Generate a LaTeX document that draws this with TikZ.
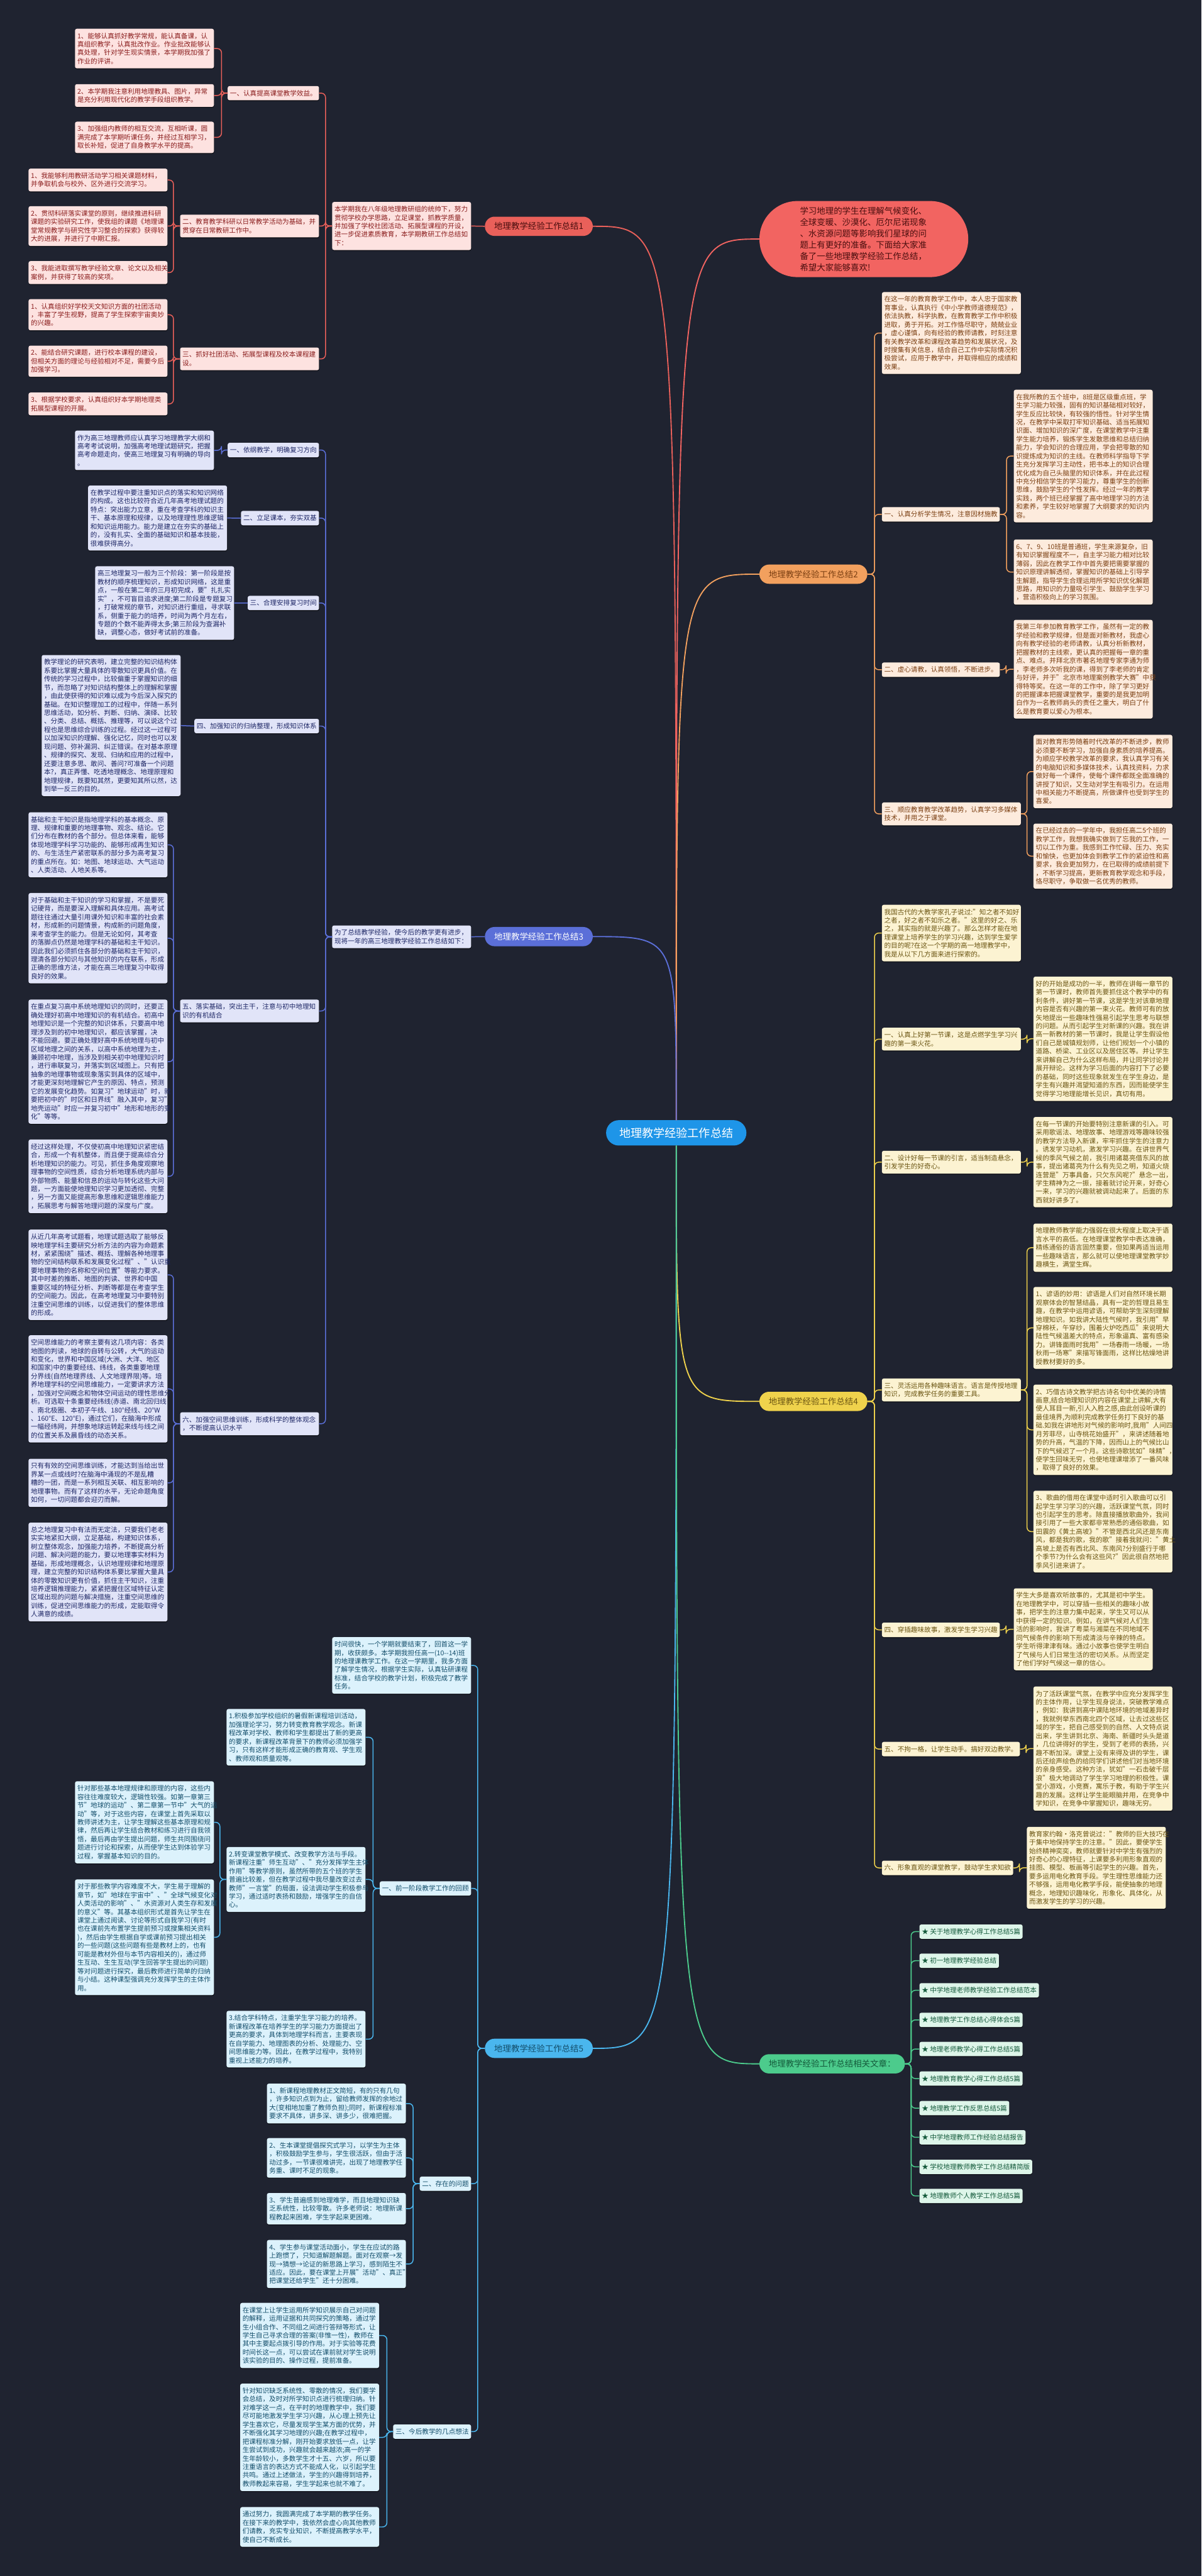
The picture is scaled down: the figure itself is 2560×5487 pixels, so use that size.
\documentclass[tikz,border=0pt]{standalone}
\usepackage{fontspec}
\setmainfont{Noto Sans CJK SC}
\usetikzlibrary{calc,shadows}
\definecolor{bg}{HTML}{1F2330}
\definecolor{la}{HTML}{E9605A}\definecolor{fa}{HTML}{FDE2E0}\definecolor{ta}{HTML}{8A1C1C}
\definecolor{lb}{HTML}{F2A05E}\definecolor{fb}{HTML}{FDEBDD}\definecolor{tb}{HTML}{7B3F12}
\definecolor{lc}{HTML}{5B6FD8}\definecolor{fc}{HTML}{E1E4F8}\definecolor{tc}{HTML}{1E2766}
\definecolor{ld}{HTML}{EFD24C}\definecolor{fd}{HTML}{FCF3D2}\definecolor{td}{HTML}{6B5512}
\definecolor{le}{HTML}{4AB6EE}\definecolor{fe}{HTML}{DCF2FC}\definecolor{te}{HTML}{134E6B}
\definecolor{lf}{HTML}{4CCB8C}\definecolor{ff}{HTML}{DDF5E9}\definecolor{tf}{HTML}{145A3B}
\definecolor{redfill}{HTML}{F26461}\definecolor{redtext}{HTML}{4A0E0E}
\definecolor{cfill}{HTML}{1E95E8}
\newcommand\fsLeaf{\fontsize{14.2}{18}\selectfont}
\newcommand\fsLab{\fontsize{18}{22}\selectfont}
\newcommand\fsRed{\fontsize{18}{24}\selectfont}
\newcommand\fsCen{\fontsize{24.3}{28}\selectfont}
\tikzset{
  bx/.style={rounded corners=4pt, inner xsep=5pt, inner ysep=8.6pt, align=left, font=\fsLeaf,
    drop shadow={shadow xshift=0.5pt, shadow yshift=-2pt, opacity=0.45, fill=black}},
  wd/.style={text width=286pt},
  LL/.style={anchor=north east},
  RR/.style={anchor=north west},
  ka/.style={bx, fill=fa, text=ta},
  kb/.style={bx, fill=fb, text=tb},
  kc/.style={bx, fill=fc, text=tc},
  kd/.style={bx, fill=fd, text=td},
  ke/.style={bx, fill=fe, text=te},
  kf/.style={bx, fill=ff, text=tf},
  cn/.style={line width=2pt, rounded corners=9pt},
  cv/.style={line width=2.5pt},
  lab/.style={rounded corners=20.5pt, minimum height=41pt, inner xsep=20pt, font=\fsLab},
}
\begin{document}
\begin{tikzpicture}[x=1pt,y=-1pt]
\useasboundingbox (0,0) rectangle (2560,5487);
\fill[bg] (0,0) rectangle (2560,5487);

% ---------- center and main labels ----------
\node[fill=cfill, text=white, font=\fsCen, rounded corners=27pt, minimum width=299pt, minimum height=54pt, inner sep=0pt] (C) at (1441,2413) {地理教学经验工作总结};

\node[fill=redfill, text=redtext, font=\fsRed, rounded corners=81pt, minimum width=445pt, minimum height=162pt, text width=272pt, align=left, anchor=north west] (red) at (1618,428) {学习地理的学生在理解气候变化、\\全球变暖、沙漠化、厄尔尼诺现象\\、水资源问题等影响我们星球的问\\题上有更好的准备。下面给大家准\\备了一些地理教学经验工作总结，\\希望大家能够喜欢!};

\node[lab, fill=la, text=redtext, anchor=west] (lab1) at (1033,482) {地理教学经验工作总结1};
\node[lab, fill=lb, text=tb, anchor=west] (lab2) at (1618,1223) {地理教学经验工作总结2};
\node[lab, fill=lc, text=white, anchor=west] (lab3) at (1033,1995) {地理教学经验工作总结3};
\node[lab, fill=ld, text=td, anchor=west] (lab4) at (1618,2985) {地理教学经验工作总结4};
\node[lab, fill=le, text=te, anchor=west] (lab5) at (1033,4363) {地理教学经验工作总结5};
\node[lab, fill=lf, text=tf, anchor=west] (labR) at (1618,4396) {地理教学经验工作总结相关文章：};

\draw[cv, la] (C.north) .. controls (1441,482) .. (lab1.east);
\draw[cv, redfill] (C.north) .. controls (1441,509) .. (red.west);
\draw[cv, lb] (C.north) .. controls (1441,1223) .. (lab2.west);
\draw[cv, lc] (C.north) .. controls (1441,1995) .. (lab3.east);
\draw[cv, ld] (C.south) .. controls (1441,2985) .. (lab4.west);
\draw[cv, le] (C.south) .. controls (1441,4363) .. (lab5.east);
\draw[cv, lf] (C.south) .. controls (1441,4396) .. (labR.west);

% ---------- 总结1 ----------
\node[ka, wd, LL] (N1) at (1004,430) {本学期我在八年级地理教研组的统帅下，努力\\贯彻学校办学思路，立足课堂，抓教学质量，\\并加强了学校社团活动、拓展型课程的开设，\\进一步促进素质教育，本学期教研工作总结如\\下：};
\node[ka, LL] (N1a) at (680,183) {一、认真提高课堂教学效益。};
\node[ka, wd, LL] (N1b) at (680,457) {二、教育教学科研以日常教学活动为基础，并\\贯穿在日常教研工作中。};
\node[ka, wd, LL] (N1c) at (680,740) {三、抓好社团活动、拓展型课程及校本课程建\\设。};
\node[ka, wd, LL] (A1) at (456,61) {1、能够认真抓好教学常规，能认真备课，认\\真组织教学，认真批改作业。作业批改能够认\\真处理，针对学生现实情景，本学期我加强了\\作业的评讲。};
\node[ka, wd, LL] (A2) at (456,179) {2、本学期我注意利用地理教具、图片，异常\\是充分利用现代化的教学手段组织教学。};
\node[ka, wd, LL] (A3) at (456,259) {3、加强组内教师的相互交流，互相听课，圆\\满完成了本学期听课任务，并经过互相学习，\\取长补短，促进了自身教学水平的提高。};
\node[ka, wd, LL] (B1) at (357,359) {1、我能够利用教研活动学习相关课题材料，\\并争取机会与校外、区外进行交流学习。};
\node[ka, wd, LL] (B2) at (357,439) {2、贯彻科研落实课堂的原则，继续推进科研\\课题的实验研究工作，使我组的课题《地理课\\堂常规教学与研究性学习整合的探索》获得较\\大的进展，并进行了中期汇报。};
\node[ka, wd, LL] (B3) at (357,556) {3、我能进取撰写教学经验文章、论文以及相关\\案例，并获得了较高的奖项。};
\node[ka, wd, LL] (C1) at (357,637) {1、认真组织好学校天文知识方面的社团活动\\，丰富了学生视野，提高了学生探索宇宙奥妙\\的兴趣。};
\node[ka, wd, LL] (C2) at (357,736) {2、能结合研究课题，进行校本课程的建设，\\但相关方面的理论与经验相对不足，需要今后\\加强学习。};
\node[ka, wd, LL] (C3) at (357,836) {3、根据学校要求，认真组织好本学期地理类\\拓展型课程的开展。};

\draw[cn, la] (lab1.west) -- (N1.east);
\foreach \c in {N1a,N1b,N1c} \draw[cn, la] (N1.west) -- ++(-14,0) |- (\c.east);
\foreach \c in {A1,A2,A3} \draw[cn, la] (N1a.west) -- ++(-13,0) |- (\c.east);
\foreach \c in {B1,B2,B3} \draw[cn, la] (N1b.west) -- ++(-14,0) |- (\c.east);
\foreach \c in {C1,C2,C3} \draw[cn, la] (N1c.west) -- ++(-14,0) |- (\c.east);

% ---------- 总结3 ----------
\node[kc, wd, LL] (N3) at (1004,1971) {为了总结教学经验，使今后的教学更有进步，\\现将一年的高三地理教学经验工作总结如下：};
\node[kc, LL] (N3a) at (680,943) {一、依纲教学，明确复习方向};
\node[kc, LL] (N3b) at (680,1088) {二、立足课本，夯实双基};
\node[kc, LL] (N3c) at (680,1269) {三、合理安排复习时间};
\node[kc, LL] (N3d) at (680,1531) {四、加强知识的归纳整理，形成知识体系};
\node[kc, wd, LL] (N3e) at (680,2129) {五、落实基础，突出主干，注意与初中地理知\\识的有机结合};
\node[kc, wd, LL] (N3f) at (680,3008) {六、加强空间思维训练，形成科学的整体观念\\，不断提高认识水平};
\node[kc, wd, LL] (D1) at (456,917) {作为高三地理教师应认真学习地理教学大纲和\\高考考试说明，加强高考地理试题研究，把握\\高考命题走向，使高三地理复习有明确的导向\\。};
\node[kc, wd, LL] (D2) at (484,1034) {在教学过程中要注重知识点的落实和知识网络\\的构成。这也比较符合近几年高考地理试题的\\特点：突出能力立意，重在考查学科的知识主\\干、基本原理和规律，以及地理理性思维逻辑\\和知识运用能力。能力是建立在夯实的基础上\\的，没有扎实、全面的基础知识和基本技能，\\很难获得高分。};
\node[kc, wd, LL] (D3) at (499,1206) {高三地理复习一般为三个阶段：第一阶段是按\\教材的顺序梳理知识，形成知识网络，这是重\\点，一般在第二年的三月初完成，要"扎扎实\\实"，不可盲目追求进度;第二阶段是专题复习\\，打破常规的章节，对知识进行重组，寻求联\\系，侧重于能力的培养，时间为两个月左右，\\专题的个数不能弄得太多;第三阶段为查漏补\\缺，调整心态，做好考试前的准备。};
\node[kc, wd, LL] (D4) at (385,1395) {教学理论的研究表明，建立完整的知识结构体\\系要比掌握大量具体的零散知识更具价值。在\\传统的学习过程中，比较偏重于掌握知识的细\\节，而忽略了对知识结构整体上的理解和掌握\\，由此使获得的知识难以成为今后深入探究的\\基础。在知识整理加工的过程中，伴随一系列\\思维活动，如分析、判断、归纳、演绎、比较\\、分类、总结、概括、推理等，可以说这个过\\程也是思维综合训练的过程。经过这一过程可\\以加深知识的理解、强化记忆，同时也可以发\\现问题、弥补漏洞、纠正错误。在对基本原理\\、规律的探究、发现、归纳和应用的过程中，\\还要注意多思、敢问、善问?可准备一个问题\\本?，真正弄懂、吃透地理概念、地理原理和\\地理规律，既要知其然，更要知其所以然，达\\到举一反三的目的。};
\node[kc, wd, LL] (D5) at (357,1730) {基础和主干知识是指地理学科的基本概念、原\\理、规律和重要的地理事物、观念、结论。它\\们分布在教材的各个部分。但总体来看，能够\\体现地理学科学习功能的、能够形成再生知识\\的、与生活生产紧密联系的部分多为高考复习\\的重点所在。如：地图、地球运动、大气运动\\、人类活动、人地关系等。};
\node[kc, wd, LL] (D6) at (357,1902) {对于基础和主干知识的学习和掌握，不是要死\\记硬背，而是要深入理解和具体应用。高考试\\题往往通过大量引用课外知识和丰富的社会素\\材，形成新的问题情景，构成新的问题角度，\\来考查学生的能力。但是无论如何，其考查\\的落脚点仍然是地理学科的基础和主干知识。\\因此我们必须抓住各部分的基础和主干知识，\\理清各部分知识与其他知识的内在联系，形成\\正确的思维方法，才能在高三地理复习中取得\\良好的效果。};
\node[kc, wd, LL] (D7) at (357,2129) {在重点复习高中系统地理知识的同时，还要正\\确处理好初高中地理知识的有机结合。初高中\\地理知识是一个完整的知识体系，只要高中地\\理涉及到的初中地理知识，都应该掌握，决\\不能回避。要正确处理好高中系统地理与初中\\区域地理之间的关系，以高中系统地理为主，\\兼顾初中地理，当涉及到相关初中地理知识时\\，进行串联复习，并落实到区域图上。只有把\\抽象的地理事物或现象落实到具体的区域中，\\才能更深刻地理解它产生的原因、特点，预测\\它的发展变化趋势。如复习"地球运动"时，就\\要把初中的"时区和日界线"融入其中，复习"\\地壳运动"时应一并复习初中"地形和地形的变\\化"等等。};
\node[kc, wd, LL] (D8) at (357,2427) {经过这样处理，不仅使初高中地理知识紧密结\\合，形成一个有机整体，而且便于提高综合分\\析地理知识的能力。可见，抓住多角度观察地\\理事物的空间性质，综合分析地理系统内部与\\外部物质、能量和信息的运动与转化这些大问\\题，一方面能使地理知识学习更加透彻、完整\\，另一方面又能提高形象思维和逻辑思维能力\\，拓展思考与解答地理问题的深度与广度。};
\node[kc, wd, LL] (D9) at (357,2619) {从近几年高考试题看，地理试题选取了能够反\\映地理学科主要研究分析方法的内容为命题素\\材，紧紧围绕"描述、概括、理解各种地理事\\物的空间结构联系和发展变化过程"、"认识重\\要地理事物的名称和空间位置"等能力要求。\\其中时差的推断、地图的判读、世界和中国\\重要区域的特征分析、判断等都是在考查学生\\的空间能力。因此，在高考地理复习中要特别\\注重空间思维的训练，以促进我们的整体思维\\的形成。};
\node[kc, wd, LL] (D10) at (357,2844) {空间思维能力的考察主要有这几项内容：各类\\地图的判读，地球的自转与公转，大气的运动\\和变化，世界和中国区域(大洲、大洋、地区\\和国家)中的重要经线、纬线，各类重要地理\\分界线(自然地理界线、人文地理界限)等。培\\养地理学科的空间思维能力，一定要讲求方法\\，加强对空间概念和物体空间运动的理性思维分\\析。可选取十条重要经纬线(赤道、南北回归线\\、南北极圈、本初子午线、180°经线、20°W\\、160°E、120°E)，通过它们，在脑海中形成\\一幅经纬网，并想象地球运转起来线与线之间\\的位置关系及晨昏线的动态关系。};
\node[kc, wd, LL] (D11) at (357,3107) {只有有效的空间思维训练，才能达到当给出世\\界某一点或线时?在脑海中涌现的不是乱糟\\糟的一团，而是一系列相互关联、相互影响的\\地理事物。而有了这样的水平，无论命题角度\\如何，一切问题都会迎刃而解。};
\node[kc, wd, LL] (D12) at (357,3243) {总之地理复习中有法而无定法，只要我们老老\\实实地紧扣大纲，立足基础，构建知识体系，\\树立整体观念，加强能力培养，不断提高分析\\问题、解决问题的能力，要以地理事实材料为\\基础，形成地理概念，认识地理规律和地理原\\理，建立完整的知识结构体系要比掌握大量具\\体的零散知识更有价值，抓住主干知识，注重\\培养逻辑推理能力，紧紧把握住区域特征认定\\区域出现的问题与解决措施，注重空间思维的\\训练，促进空间思维能力的形成，定能取得令\\人满意的成绩。};

\draw[cn, lc] (lab3.west) -- (N3.east);
\foreach \c in {N3a,N3b,N3c,N3d,N3e,N3f} \draw[cn, lc] (N3.west) -- ++(-14,0) |- (\c.east);
\draw[cn, lc] (N3a.west) -- ++(-13,0) |- (D1.east);
\draw[cn, lc] (N3b.west) -- (D2.east);
\draw[cn, lc] (N3c.west) -- (D3.east);
\draw[cn, lc] (N3d.west) -- (D4.east);
\foreach \c in {D5,D6,D7,D8} \draw[cn, lc] (N3e.west) -- ++(-14,0) |- (\c.east);
\foreach \c in {D9,D10,D11,D12} \draw[cn, lc] (N3f.west) -- ++(-14,0) |- (\c.east);

% ---------- 总结5 ----------
\node[ke, wd, LL] (N5) at (1004,3487) {时间很快，一个学期就要结束了，回首这一学\\期，收获颇多。本学期我担任高一(10-{}-14)班\\的地理课教学工作。在这一学期里，我多方面\\了解学生情况，根据学生实际，认真钻研课程\\标准，结合学校的教学计划，积极完成了教学\\任务。};
\node[ke, LL] (N5a) at (1004,4007) {一、前一阶段教学工作的回顾};
\node[ke, LL] (N5b) at (1004,4636) {二、存在的问题};
\node[ke, LL] (N5c) at (1004,5164) {三、今后教学的几点想法};
\node[ke, wd, LL] (E1) at (779,3640) {1.积极参加学校组织的暑假新课程培训活动，\\加强理论学习，努力转变教育教学观念。新课\\程改革对学校、教师和学生都提出了新的更高\\的要求，新课程改革背景下的教师必须加强学\\习，只有这样才能形成正确的教育观、学生观\\、教师观和质量观等。};
\node[ke, wd, LL] (E2) at (779,3934) {2.转变课堂教学模式、改变教学方法与手段。\\新课程注重"师生互动"、"充分发挥学生主体\\作用"等教学原则，虽然所带的五个班的学生\\普遍比较差，但在教学过程中我尽量改变过去\\教师"一言堂"的局面，设法调动学生积极参与\\学习，通过适时表扬和鼓励，增强学生的自信\\心。};
\node[ke, wd, LL] (E3) at (779,4283) {3.结合学科特点，注重学生学习能力的培养。\\新课程改革在培养学生的学习能力方面提出了\\更高的要求，具体到地理学科而言，主要表现\\在自学能力、地理图表的分析、处理能力、空\\间思维能力等。因此，在教学过程中，我特别\\重视上述能力的培养。};
\node[ke, wd, LL] (F1) at (456,3794) {针对那些基本地理规律和原理的内容，这些内\\容往往难度较大，逻辑性较强。如第一章第三\\节"地球的运动"、第二章第一节中"大气的运\\动"等，对于这些内容，在课堂上首先采取以\\教师讲述为主，让学生理解这些基本原理和规\\律，然后再让学生结合教材和练习进行自我领\\悟，最后再由学生提出问题，师生共同围绕问\\题进行讨论和探索，从而使学生达到体验学习\\过程，掌握基本知识的目的。};
\node[ke, wd, LL] (F2) at (456,4003) {对于那些教学内容难度不大，学生易于理解的\\章节，如"地球在宇宙中"、"全球气候变化对\\人类活动的影响"、"水资源对人类生存和发展\\的意义"等。其基本组织形式是首先让学生在\\课堂上通过阅读、讨论等形式自我学习(有时\\也在课前先布置学生提前预习或搜集相关资料\\)，然后由学生根据自学或课前预习提出相关\\的一些问题(这些问题有些是教材上的，也有\\可能是教材外但与本节内容相关的)，通过师\\生互动、生生互动(学生回答学生提出的问题)\\等对问题进行探究，最后教师进行简单的归纳\\与小结。这种课型强调充分发挥学生的主体作\\用。};
\node[ke, wd, LL] (G1) at (865,4438) {1、新课程地理教材正文简短，有的只有几句\\，许多知识点到为止，留给教师发挥的余地过\\大(变相地加重了教师负担);同时，新课程标准\\要求不具体，讲多深、讲多少，很难把握。};
\node[ke, wd, LL] (G2) at (865,4554) {2、生本课堂提倡探究式学习，以学生为主体\\，积极鼓励学生参与，学生很活跃，但由于活\\动过多，一节课很难讲完，出现了地理教学任\\务重、课时不足的现象。};
\node[ke, wd, LL] (G3) at (865,4671) {3、学生普遍感到地理难学，而且地理知识缺\\乏系统性，比较零散。许多老师说：地理新课\\程教起来困难，学生学起来更困难。};
\node[ke, wd, LL] (G4) at (865,4771) {4、学生参与课堂活动面小，学生在应试的路\\上跑惯了，只知道解题解题。面对在观察→发\\现→猜想→论证的新思路上学习，感到陌生不\\适应。因此，要在课堂上开展"活动"、真正"\\把课堂还给学生"还十分困难。};
\node[ke, wd, LL] (H1) at (808,4905) {在课堂上让学生运用所学知识展示自己对问题\\的解释，运用证据和共同探究的策略，通过学\\生小组合作、不同组之间进行答辩等形式，让\\学生自己寻求合理的答案(非惟一性)，教师在\\其中主要起点拨引导的作用。对于实验等花费\\时间长这一点，可以尝试在课前就对学生说明\\该实验的目的、操作过程，提前准备。};
\node[ke, wd, LL] (H2) at (808,5077) {针对知识缺乏系统性、零散的情况，我们要学\\会总结，及时对所学知识点进行梳理归纳。针\\对难学这一点，在平时的地理教学中，我们要\\尽可能地激发学生学习兴趣，从心理上预先让\\学生喜欢它，尽量发现学生某方面的优势，并\\不断强化其学习地理的兴趣;在教学过程中，\\把课程标准分解，刚开始要求放低一点，让学\\生尝试到成功，兴趣就会越来越浓;高一的学\\生年龄较小，多数学生才十五、六岁，所以要\\注重语言的表达方式不能成人化，以引起学生\\共鸣。通过上述做法，学生的兴趣得到培养，\\教师教起来容易，学生学起来也就不难了。};
\node[ke, wd, LL] (H3) at (808,5340) {通过努力，我圆满完成了本学期的教学任务。\\在接下来的教学中，我依然会虚心向其他教师\\们请教，充实专业知识，不断提高教学水平，\\使自己不断成长。};

\foreach \c in {N5,N5a,N5b,N5c} \draw[cn, le] (lab5.west) -- ++(-15,0) |- (\c.east);
\foreach \c in {E1,E2,E3} \draw[cn, le] (N5a.west) -- ++(-14,0) |- (\c.east);
\foreach \c in {F1,F2} \draw[cn, le] (E2.west) -- ++(-14,0) |- (\c.east);
\foreach \c in {G1,G2,G3,G4} \draw[cn, le] (N5b.west) -- ++(-14,0) |- (\c.east);
\foreach \c in {H1,H2,H3} \draw[cn, le] (N5c.west) -- ++(-13,0) |- (\c.east);

% ---------- 总结2 ----------
\node[kb, wd, RR] (K0) at (1879,622) {在这一年的教育教学工作中，本人忠于国家教\\育事业，认真执行《中小学教师道德规范》，\\依法执教，科学执教，在教育教学工作中积极\\进取，勇于开拓。对工作恪尽职守，兢兢业业\\，虚心谨慎，向有经验的教师请教，时刻注意\\有关教学改革和课程改革趋势和发展状况，及\\时搜集有关信息，结合自己工作中实际情况积\\极尝试，应用于教学中，并取得相应的成绩和\\效果。};
\node[kb, RR] (K1) at (1879,1080) {一、认真分析学生情况，注意因材施教};
\node[kb, RR] (K2) at (1879,1411) {二、虚心请教，认真领悟，不断进步。};
\node[kb, wd, RR] (K3) at (1879,1709) {三、顺应教育教学改革趋势，认真学习多媒体\\技术，并用之于课堂。};
\node[kb, wd, RR] (K1a) at (2160,830) {在我所教的五个班中，8班是区级重点班，学\\生学习能力较强，固有的知识基础相对较好，\\学生反应比较快，有较强的悟性。针对学生情\\况，在教学中采取打牢知识基础、适当拓展知\\识面、增加知识的深广度，在课堂教学中注重\\学生能力培养，锻炼学生发散思维和总结归纳\\能力，学会知识的合理应用，学会把零散的知\\识提炼成为知识的主线。在教师科学指导下学\\生充分发挥学习主动性，把书本上的知识合理\\优化成为自己头脑里的知识体系，并在此过程\\中充分相信学生的学习能力，尊重学生的创新\\思维，鼓励学生的个性发挥。经过一年的教学\\实践，两个班已经掌握了高中地理学习的方法\\和素养，学生较好地掌握了大纲要求的知识内\\容。};
\node[kb, wd, RR] (K1b) at (2160,1149) {6、7、9、10班是普通班，学生来源复杂，旧\\有知识掌握程度不一，自主学习能力相对比较\\薄弱，因此在教学工作中首先要把需要掌握的\\知识原理讲解透彻，掌握知识的基础上引导学\\生解题，指导学生合理运用所学知识优化解题\\思路，用知识的力量吸引学生、鼓励学生学习\\，营造积极向上的学习氛围。};
\node[kb, wd, RR] (K2a) at (2160,1320) {我第三年参加教育教学工作，虽然有一定的教\\学经验和教学规律，但是面对新教材，我虚心\\向有教学经验的老师请教，认真分析新教材，\\把握教材的主线索，更认真的把握每一章的重\\点、难点。并拜北京市著名地理专家李通为师\\，李老师多次听我的课，得到了李老师的肯定\\与好评，并于"北京市地理案例教学大赛"中获\\得特等奖。在这一年的工作中，除了学习更好\\的把握课本把握课堂教学，重要的是我更加明\\白作为一名教师肩头的责任之重大，明白了什\\么是教育要以爱心为根本。};
\node[kb, wd, RR] (K3a) at (2202,1565) {面对教育形势随着时代改革的不断进步，教师\\必须要不断学习，加强自身素质的培养提高。\\为顺应学校教学改革的要求，我认真学习有关\\的电脑知识和多媒体技术，认真找资料，力求\\做好每一个课件，使每个课件都既全面准确的\\讲授了知识，又生动对学生有吸引力。在运用\\中相关能力不断提高，所做课件也受到学生的\\喜爱。};
\node[kb, wd, RR] (K3b) at (2202,1754) {在已经过去的一学年中，我担任高二5个班的\\教学工作，我想我确实做到了忘我的工作，一\\切以工作为重。我感到工作忙碌、压力、充实\\和愉快，也更加体会到教学工作的紧迫性和高\\要求，我会更加努力，在已取得的成绩前提下\\，不断学习提高，更新教育教学观念和手段，\\恪尽职守，争取做一名优秀的教师。};

\foreach \c in {K0,K1,K2,K3} \draw[cn, lb] (lab2.east) -- ++(15,0) |- (\c.west);
\foreach \c in {K1a,K1b} \draw[cn, lb] (K1.east) -- ++(14,0) |- (\c.west);
\draw[cn, lb] (K2.east) -- ++(13,0) |- (K2a.west);
\foreach \c in {K3a,K3b} \draw[cn, lb] (K3.east) -- ++(13,0) |- (\c.west);

% ---------- 总结4 ----------
\node[kd, wd, RR] (L0) at (1879,1927) {我国古代的大教学家孔子说过:"知之者不如好\\之者，好之者不如乐之者。"这里的好之、乐\\之，其实指的就是兴趣了。那么怎样才能在地\\理课堂上培养学生的学习兴趣，达到学生爱学\\的目的呢?在这一个学期的高一地理教学中，\\我是从以下几方面来进行探索的。};
\node[kd, wd, RR] (L1) at (1879,2189) {一、认真上好第一节课，这是点燃学生学习兴\\趣的第一束火花。};
\node[kd, wd, RR] (L2) at (1879,2451) {二、设计好每一节课的引言，适当制造悬念，\\引发学生的好奇心。};
\node[kd, wd, RR] (L3) at (1879,2936) {三、灵活运用各种趣味语言。语言是传授地理\\知识，完成教学任务的重要工具。};
\node[kd, RR] (L4) at (1879,3456) {四、穿插趣味故事，激发学生学习兴趣};
\node[kd, RR] (L5) at (1879,3710) {五、不拘一格，让学生动手。搞好双边教学。};
\node[kd, RR] (L6) at (1879,3963) {六、形象直观的课堂教学，鼓动学生求知欲};
\node[kd, wd, RR] (L1a) at (2202,2080) {好的开始是成功的一半，教师在讲每一章节的\\第一节课时，教师首先要抓住这个教学中的有\\利条件，讲好第一节课，这是学生对该章地理\\内容是否有兴趣的第一束火花。教师可有的放\\矢地提出一些趣味性强易引起学生思考与联想\\的问题。从而引起学生对新课的兴趣。我在讲\\高一新教材的第一节课时，我是让学生假设他\\们自己是城镇规划师，让他们规划一个小镇的\\道路、桥梁、工业区以及居住区等。并让学生\\来讲解自己为什么这样布局，并让同学讨论并\\展开辩论。这样为学习后面的内容打下了必要\\的基础，同时这些现象就发生在学生身边，是\\学生有兴趣并渴望知道的东西，因而能使学生\\觉得学习地理能增长见识，真切有用。};
\node[kd, wd, RR] (L2a) at (2202,2379) {在每一节课的开始要特别注意新课的引入。可\\采用歌谣法、地理故事、地理游戏等趣味较强\\的教学方法导入新课，牢牢抓住学生的注意力\\。诱发学习动机，激发学习兴趣。在讲世界气\\候的季风气候之前，我引用诸葛亮借东风的故\\事，提出诸葛亮为什么有先见之明，知道火烧\\连营是"万事具备，只欠东风呢?"悬念一出，\\学生精神为之一振，接着就讨论开来，好奇心\\一来，学习的兴趣就被调动起来了。后面的东\\西就好讲多了。};
\node[kd, wd, RR] (L3a) at (2202,2606) {地理教师教学能力强弱在很大程度上取决于语\\言水平的高低。在地理课堂教学中表达准确，\\精练通俗的语言固然重要，但如果再适当运用\\一些趣味语言，那么就可以使地理课堂教学妙\\趣横生，满堂生辉。};
\node[kd, wd, RR] (L3b) at (2202,2741) {1、谚语的妙用：谚语是人们对自然环境长期\\观察体会的智慧结晶，具有一定的哲理且易生\\趣，在教学中运用谚语，可帮助学生深刻理解\\地理知识。如我讲大陆性气候时，我引用"早\\穿棉袄，午穿纱，围着火炉吃西瓜"来说明大\\陆性气候温差大的特点，形象逼真、富有感染\\力。讲锋面雨时我用"一场春雨一场暖，一场\\秋雨一场寒"来描写锋面雨，这样比枯燥地讲\\授教材要好的多。};
\node[kd, wd, RR] (L3c) at (2202,2949) {2、巧借古诗文教学把古诗名句中优美的诗情\\画意,结合地理知识的内容在课堂上讲解,大有\\使人耳目一新,引人入胜之感,由此创设听课的\\最佳境界,为顺利完成教学任务打下良好的基\\础.如我在讲地形对气候的影响时,我用"人间四\\月芳菲尽，山寺桃花始盛开"，来讲述随着地\\势的升高，气温的下降，因而山上的气候比山\\下的气候迟了一个月。这些诗歌犹如"味精"，\\使学生回味无穷，也使地理课增添了一番风味\\，取得了良好的效果。};
\node[kd, wd, RR] (L3d) at (2202,3175) {3、歌曲的借用在课堂中适时引入歌曲可以引\\起学生学习学习的兴趣，活跃课堂气氛，同时\\也引起学生的思考。除直接播放歌曲外，我间\\接引用了一些大家都非常熟悉的通俗歌曲，如\\田震的《黄土高坡》"不管是西北风还是东南\\风，都是我的歌，我的歌"接着我就问："黄土\\高坡上是否有西北风、东南风?分别盛行于哪\\个季节?为什么会有这些风?"因此很自然地把\\季风引进来讲了。};
\node[kd, wd, RR] (L4a) at (2160,3383) {学生大多是喜欢听故事的，尤其是初中学生。\\在地理教学中，可以穿插一些相关的趣味小故\\事，把学生的注意力集中起来，学生又可以从\\中获得一定的知识。例如，在讲气候对人们生\\活的影响时，我讲了粤菜与湘菜在不同地域不\\同气候条件的影响下形成清淡与辛辣的特点。\\学生听得津津有味。通过小故事也使学生明白\\了气候与人们日常生活的密切关系。从而坚定\\了他们学好气候这一章的信心。};
\node[kd, wd, RR] (L5a) at (2202,3592) {为了活跃课堂气氛，在教学中应充分发挥学生\\的主体作用，让学生现身说法，突破教学难点\\，例如：我讲到高中课陆地环境的地域差异时\\，我就例举东西南北四个区域，让去过这些区\\域的学生，把自己感受到的自然、人文特点说\\出来，学生讲到北京、海南、新疆时头头是道\\，几位讲得好的学生，受到了老师的表扬，兴\\趣不断加深。课堂上没有来得及讲的学生，课\\后还绘声绘色的给同学们讲述他们对当地环境\\的亲身感受。这种方法，犹如"一石击破千层\\浪"极大地调动了学生学习地理的积极性。课\\堂小游戏，小竞赛，寓乐于教，有助于学生兴\\趣的发展。这样让学生能眼脑并用，在竞争中\\学知识，在竞争中掌握知识，趣味无穷。};
\node[kd, wd, RR] (L6a) at (2188,3891) {教育家约翰·洛克曾说过："教师的巨大技巧在\\于集中地保持学生的注意。"因此，要使学生\\始终精神奕奕，教师就要针对中学生有强烈的\\好奇心的心理特征，上课要多利用形象直观的\\挂图、模型、板画等引起学生的兴趣。首先，\\要多运用电化教育手段。学生理性思维能力还\\不够强，运用电化教学手段，能使抽象的地理\\概念，地理知识趣味化，形象化、具体化，从\\而激发学生的学习的兴趣。};

\foreach \c in {L0,L1,L2,L3,L4,L5,L6} \draw[cn, ld] (lab4.east) -- ++(15,0) |- (\c.west);
\draw[cn, ld] (L1.east) -- ++(13,0) |- (L1a.west);
\draw[cn, ld] (L2.east) -- ++(13,0) |- (L2a.west);
\foreach \c in {L3a,L3b,L3c,L3d} \draw[cn, ld] (L3.east) -- ++(13,0) |- (\c.west);
\draw[cn, ld] (L4.east) -- ++(13,0) |- (L4a.west);
\draw[cn, ld] (L5.east) -- ++(13,0) |- (L5a.west);
\draw[cn, ld] (L6.east) -- ++(13,0) |- (L6a.west);

% ---------- related ----------
\node[kf, RR] (R1) at (1959,4099) {★ 关于地理教学心得工作总结5篇};
\node[kf, RR] (R2) at (1959,4161) {★ 初一地理教学经验总结};
\node[kf, RR] (R3) at (1959,4224) {★ 中学地理老师教学经验工作总结范本};
\node[kf, RR] (R4) at (1959,4287) {★ 地理教学工作总结心得体会5篇};
\node[kf, RR] (R5) at (1959,4349) {★ 地理老师教学心得工作总结5篇};
\node[kf, RR] (R6) at (1959,4412) {★ 地理教育教学心得工作总结5篇};
\node[kf, RR] (R7) at (1959,4475) {★ 地理教学工作反思总结5篇};
\node[kf, RR] (R8) at (1959,4537) {★ 中学地理教师工作经验总结报告};
\node[kf, RR] (R9) at (1959,4600) {★ 学校地理教师教学工作总结精简版};
\node[kf, RR] (R10) at (1959,4662) {★ 地理教师个人教学工作总结5篇};
\foreach \c in {R1,R2,R3,R4,R5,R6,R7,R8,R9,R10} \draw[cn, lf] (labR.east) -- ++(13,0) |- (\c.west);

\end{tikzpicture}
\end{document}
